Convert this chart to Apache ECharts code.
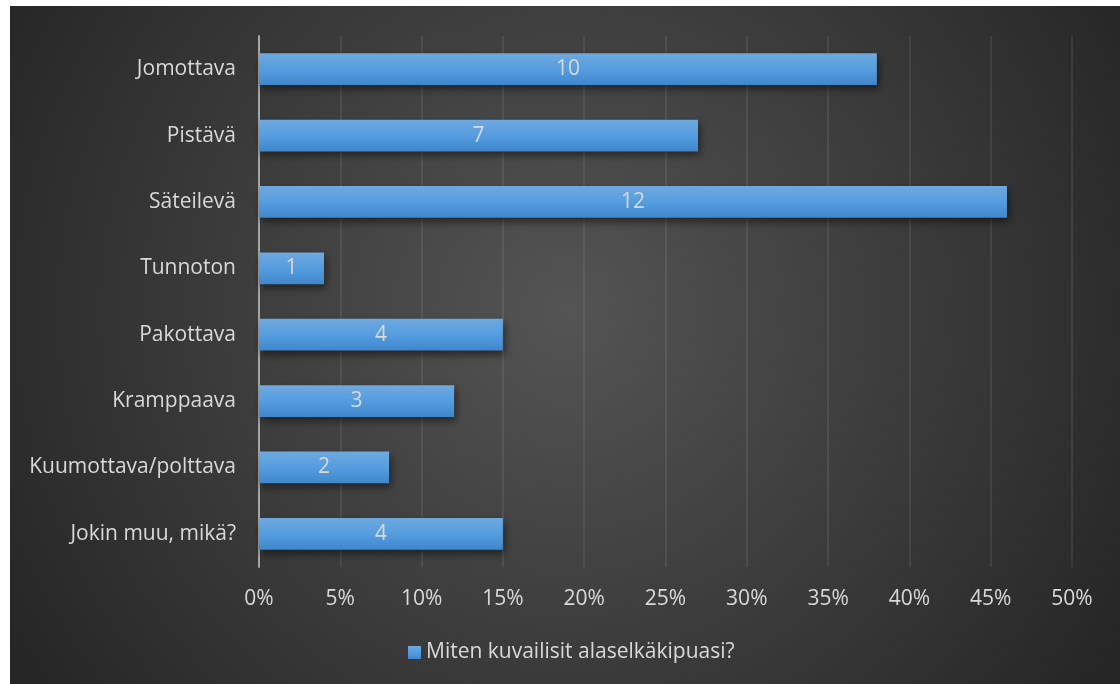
<!DOCTYPE html>
<html>
<head>
<meta charset="utf-8">
<script src="https://cdn.jsdelivr.net/npm/echarts@6/dist/echarts.min.js"></script>
<style>
  html, body { margin: 0; padding: 0; background: #ffffff; }
  #chart { width: 1120px; height: 684px; }
</style>
</head>
<body>
<div id="chart"></div>
<script>
// Survey answers: how respondents describe their lower back pain
const categories = [
  'Jomottava',
  'Pistävä',
  'Säteilevä',
  'Tunnoton',
  'Pakottava',
  'Kramppaava',
  'Kuumottava/polttava',
  'Jokin muu, mikä?'
];
// number of answers per option (shown on the bars)
const counts = [10, 7, 12, 1, 4, 3, 2, 4];
// share of respondents per option, in percent (bar length)
const shares = [38, 27, 46, 4, 15, 12, 8, 15];
const seriesName = 'Miten kuvailisit alaselkäkipuasi?';
const tickLabels = ['0%', '5%', '10%', '15%', '20%', '25%', '30%', '35%', '40%', '45%', '50%'];

const FONT = '"Open Sans", "Noto Sans", sans-serif';
const TEXT = '#d9d9d9';

const chart = echarts.init(document.getElementById('chart'), null, { renderer: 'canvas' });

chart.setOption({
  animation: false,
  backgroundColor: '#ffffff',
  graphic: [{
    type: 'rect',
    z: -10,
    silent: true,
    shape: { x: 10, y: 6, width: 1110, height: 678 },
    style: {
      fill: new echarts.graphic.RadialGradient(0.5, 0.45, 0.95, [
        { offset: 0, color: '#545454' },
        { offset: 1, color: '#262626' }
      ])
    }
  }],
  grid: { left: 259, right: 48, top: 36, bottom: 117, containLabel: false },
  legend: {
    bottom: 16,
    left: 403,
    icon: 'rect',
    itemWidth: 13,
    itemHeight: 13,
    itemGap: 6,
    textStyle: { color: TEXT, fontSize: 21, fontFamily: FONT },
    data: [seriesName]
  },
  xAxis: {
    type: 'value',
    min: 0,
    max: 50,
    interval: 5,
    axisLine: { show: false },
    axisTick: { show: false },
    splitLine: { show: true, lineStyle: { color: 'rgba(255,255,255,0.08)', width: 2 } },
    axisLabel: {
      color: TEXT,
      fontSize: 21,
      fontFamily: FONT,
      margin: 22,
      formatter: (v) => tickLabels[Math.round(v / 5)]
    }
  },
  yAxis: {
    type: 'category',
    inverse: true,
    data: categories,
    axisLine: { show: true, lineStyle: { color: '#a6a6a6', width: 2 } },
    axisTick: { show: false },
    axisLabel: {
      color: TEXT,
      fontSize: 21,
      fontFamily: FONT,
      margin: 23
    }
  },
  series: [{
    name: seriesName,
    type: 'bar',
    data: shares.map((v, i) => ({ value: v, count: counts[i] })),
    barCategoryGap: '52%',
    itemStyle: {
      color: new echarts.graphic.LinearGradient(0, 0, 0, 1, [
        { offset: 0, color: '#6fa9de' },
        { offset: 0.5, color: '#559ddf' },
        { offset: 1, color: '#3f86cc' }
      ]),
      shadowColor: 'rgba(0,0,0,0.5)',
      shadowBlur: 8,
      shadowOffsetX: 2,
      shadowOffsetY: 4
    },
    label: {
      show: true,
      position: 'inside',
      color: TEXT,
      fontSize: 21,
      fontFamily: FONT,
      formatter: (p) => String(p.data.count)
    }
  }]
});
</script>
</body>
</html>
